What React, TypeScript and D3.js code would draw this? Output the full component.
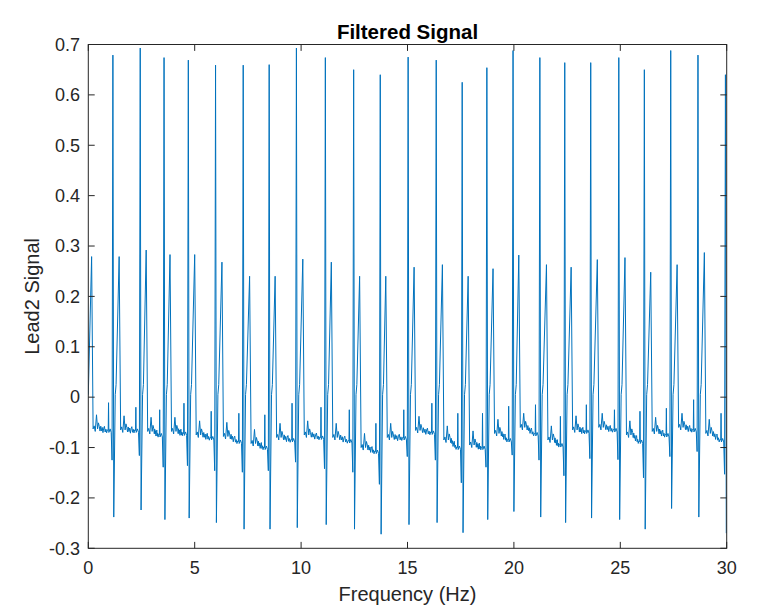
import * as d3 from "d3";

// ---- values ----
// R spikes (tall, narrow) : time and height
const rTimes = [1.156, 2.44, 3.56, 4.7, 5.98, 7.28, 8.5, 9.78, 11.14, 12.47, 13.72, 15.03, 16.35, 17.57, 18.73, 19.96, 21.22, 22.39, 23.61, 24.93, 26.13, 27.37, 28.65, 29.94];
const rPeaks = [0.679, 0.693, 0.674, 0.669, 0.659, 0.659, 0.66, 0.693, 0.674, 0.65, 0.64, 0.675, 0.669, 0.625, 0.654, 0.688, 0.674, 0.664, 0.664, 0.674, 0.65, 0.688, 0.679, 0.64];
// troughs right after each R, and the small dip right before it
const sTroughs = [-0.238, -0.224, -0.243, -0.24, -0.249, -0.262, -0.262, -0.259, -0.253, -0.262, -0.272, -0.253, -0.249, -0.269, -0.243, -0.227, -0.238, -0.249, -0.24, -0.243, -0.262, -0.221, -0.238, -0.27];
const qDips = [-0.125, -0.116, -0.139, -0.136, -0.146, -0.149, -0.146, -0.129, -0.142, -0.149, -0.173, -0.118, -0.125, -0.17, -0.139, -0.115, -0.125, -0.156, -0.122, -0.124, -0.16, -0.118, -0.108, -0.153];
// little blip before each R
const preSpikes = [-0.011, -0.02, -0.025, -0.012, -0.028, -0.032, -0.035, -0.012, -0.02, -0.025, -0.052, -0.025, -0.012, -0.032, -0.032, -0.018, -0.015, -0.038, -0.015, -0.025, -0.028, -0.022, -0.005, -0.032];
// second (shorter) peaks, the first one belongs to a beat before t = 0
const tTimes = [0.156, 1.45, 2.72, 3.84, 5.0, 6.28, 7.58, 8.78, 10.08, 11.42, 12.75, 13.98, 15.31, 16.64, 17.85, 19.02, 20.23, 21.53, 22.69, 23.92, 25.22, 26.43, 27.67, 28.95];
const tPeaks = [0.279, 0.279, 0.292, 0.283, 0.283, 0.268, 0.24, 0.24, 0.274, 0.268, 0.24, 0.24, 0.258, 0.263, 0.24, 0.255, 0.282, 0.263, 0.258, 0.273, 0.277, 0.248, 0.263, 0.287];
// baseline level between beats (start / end of each quiet stretch)
const baseEarly = [-0.063, -0.065, -0.068, -0.068, -0.075, -0.078, -0.092, -0.08, -0.075, -0.08, -0.1, -0.08, -0.066, -0.085, -0.095, -0.072, -0.06, -0.085, -0.065, -0.06, -0.075, -0.068, -0.06, -0.072];
const baseLate = [-0.066, -0.066, -0.075, -0.072, -0.081, -0.088, -0.1, -0.085, -0.08, -0.087, -0.108, -0.081, -0.07, -0.1, -0.1, -0.085, -0.073, -0.095, -0.068, -0.065, -0.088, -0.075, -0.065, -0.085];
const startValue = 0.005;

// shape pieces read from one cycle (seconds after the short peak / offsets from baseline)
const afterPeak: [number, number][] = [[0.07, 0.0], [0.12, 0.006], [0.17, -0.005], [0.23, 0.028], [0.28, 0.0], [0.32, 0.012]];
const wiggle = [0.005, -0.004, 0.006, -0.003, 0.004, -0.006, 0.003, 0.007, -0.004, 0.002, -0.005, 0.001];

const xTicks = [0, 5, 10, 15, 20, 25, 30];
const yTicks = [-0.3, -0.2, -0.1, 0, 0.1, 0.2, 0.3, 0.4, 0.5, 0.6, 0.7];

const W = 767;
const H = 612;
const left = 88.3;
const right = 726.7;
const top = 44.5;
const bottom = 548.3;
const tick = 6.4;
const font = "'Liberation Sans', Arial, Helvetica, sans-serif";
const axisColor = "#262626";

function buildSignal() {
  const pts: [number, number][] = [[0, startValue], [tTimes[0], tPeaks[0]]];
  rTimes.forEach((tr, i) => {
    const tt = tTimes[i];
    const b0 = baseEarly[i];
    const b1 = baseLate[i];
    afterPeak.forEach(([dt, dv]) => pts.push([tt + dt, b0 + dv]));
    const s0 = tt + 0.36;
    const s1 = tr - 0.26;
    wiggle.forEach((dv, k) => {
      const f = k / (wiggle.length - 1);
      pts.push([s0 + f * (s1 - s0), b0 + f * (b1 - b0) + dv]);
    });
    pts.push([tr - 0.22, b1]);
    pts.push([tr - 0.205, preSpikes[i]]);
    pts.push([tr - 0.19, b1 - 0.004]);
    pts.push([tr - 0.13, b1 + 0.003]);
    pts.push([tr - 0.08, b1 - 0.004]);
    pts.push([tr - 0.04, qDips[i]]);
    pts.push([tr, rPeaks[i]]);
    pts.push([tr + 0.04, sTroughs[i]]);
    if (i + 1 < tTimes.length) {
      pts.push([tr + 0.11, 0.005]);
      pts.push([tr + 0.15, 0.025]);
      pts.push([tTimes[i + 1], tPeaks[i + 1]]);
    }
  });
  return pts;
}

// MATLAB style labels use a plain hyphen for the minus sign
const fmtY = (v: number) => d3.format(".1~f")(v).replace("\u2212", "-");

export default function App() {
  const x = d3.scaleLinear().domain([0, 30]).range([left, right]);
  const y = d3.scaleLinear().domain([-0.3, 0.7]).range([bottom, top]);
  const line = d3
    .line<[number, number]>()
    .x((d) => x(d[0]))
    .y((d) => y(d[1]));
  const signal = buildSignal();

  return (
    <svg
      width={W}
      height={H}
      style={{ position: "absolute", left: 0, top: 0, background: "#fff" }}
      fontFamily={font}
    >
      <rect x={0} y={0} width={W} height={H} fill="#fff" />
      <defs>
        <clipPath id="plot">
          <rect x={left} y={top} width={right - left} height={bottom - top} />
        </clipPath>
      </defs>

      <path
        d={line(signal) ?? ""}
        fill="none"
        stroke="#0072BD"
        strokeWidth={1}
        strokeLinejoin="round"
        clipPath="url(#plot)"
      />

      {/* box with inward ticks on all sides */}
      <rect x={left} y={top} width={right - left} height={bottom - top} fill="none" stroke={axisColor} strokeWidth={1} />
      {xTicks.map((t) => (
        <g key={"x" + t}>
          <line x1={x(t)} x2={x(t)} y1={bottom} y2={bottom - tick} stroke={axisColor} />
          <line x1={x(t)} x2={x(t)} y1={top} y2={top + tick} stroke={axisColor} />
          <text x={x(t)} y={574} textAnchor="middle" fontSize={18} fill={axisColor}>
            {t}
          </text>
        </g>
      ))}
      {yTicks.map((t) => (
        <g key={"y" + t}>
          <line x1={left} x2={left + tick} y1={y(t)} y2={y(t)} stroke={axisColor} />
          <line x1={right} x2={right - tick} y1={y(t)} y2={y(t)} stroke={axisColor} />
          <text x={80} y={y(t)} dy="0.35em" textAnchor="end" fontSize={18} fill={axisColor}>
            {fmtY(t)}
          </text>
        </g>
      ))}

      <text x={(left + right) / 2} y={38.5} textAnchor="middle" fontSize={20.5} fontWeight="bold" fill="#000">
        Filtered Signal
      </text>
      <text x={(left + right) / 2} y={601} textAnchor="middle" fontSize={20} fill={axisColor}>
        Frequency (Hz)
      </text>
      <text
        transform={`translate(39,${(top + bottom) / 2}) rotate(-90)`}
        textAnchor="middle"
        fontSize={20}
        fill={axisColor}
      >
        Lead2 Signal
      </text>
    </svg>
  );
}
